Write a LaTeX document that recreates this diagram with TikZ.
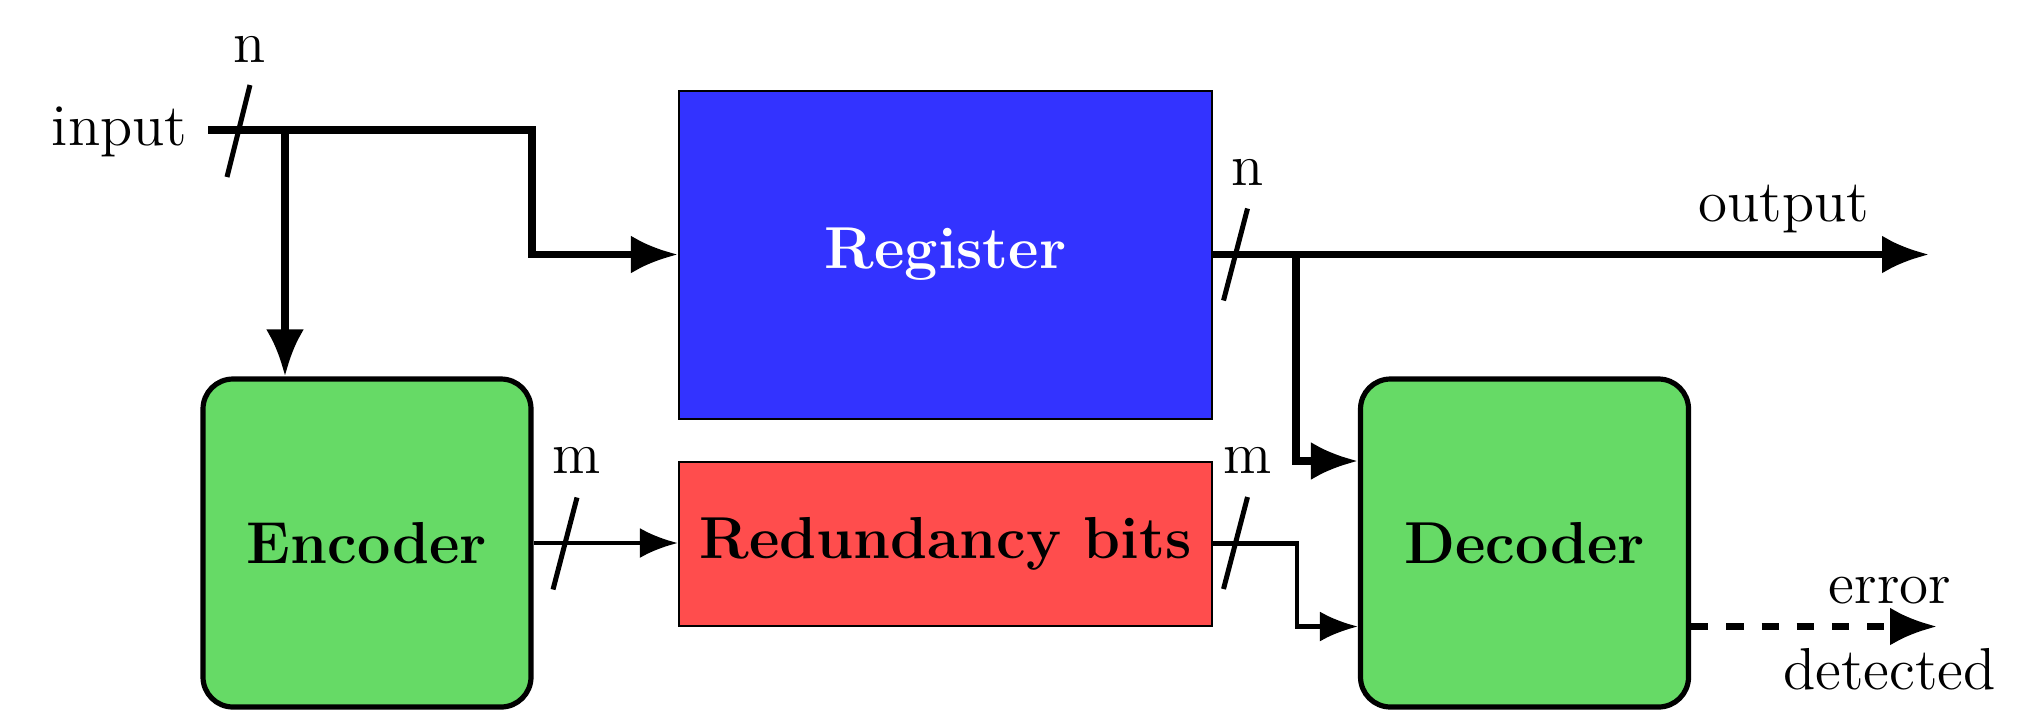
\documentclass[tikz,border=0pt]{standalone}
\usetikzlibrary{arrows.meta,calc}
\definecolor{regblue}{RGB}{51,51,255}
\definecolor{redund}{RGB}{255,77,77}
\definecolor{codegreen}{RGB}{102,218,102}
\begin{document}
\begin{tikzpicture}[x=0.25pt,y=-0.25pt,
  font=\fontsize{14.8}{17}\selectfont,
  box/.style={draw=black, line width=0.5pt, minimum width=133.3pt, inner sep=0pt,
    font=\fontsize{14.8}{17}\selectfont\bfseries},
  coder/.style={draw=black, fill=codegreen, line width=1.3pt, rounded corners=7.5pt,
    minimum width=82pt, minimum height=82pt, inner sep=0pt,
    font=\fontsize{14.8}{17}\selectfont\bfseries},
  nbus/.style={line width=1.8pt, -{Latex[length=11.75pt,width=9.5pt]}},
  mbus/.style={line width=1.1pt, -{Latex[length=9.5pt,width=7.5pt]}},
  busslash/.style={line width=1.25pt},
  buslabel/.style={anchor=base, inner sep=0pt}]
\useasboundingbox (0,0) rectangle (2030,709);

% blocks
\node[box, fill=regblue, text=white, minimum height=82pt] (reg) at (945.5,254.5) {Register};
\node[box, fill=redund, minimum height=41pt] (red) at (945.5,543.5) {Redundancy bits};
\node[coder] (enc) at (367,543) {Encoder};
\node[coder] (dec) at (1524.5,543) {Decoder};

% text labels
\node[anchor=base east, inner sep=0pt] (inlbl) at (188,145) {input};
\node[buslabel] (outlbl) at (1784,221) {output};
\node[buslabel] (errlbl) at (1890,603) {error};
\node[buslabel] (detlbl) at (1889.5,689) {detected};

% input bus
\coordinate (inS) at (208,130);
\coordinate (j1) at (285,130);
\coordinate (c1) at (532,130);
\draw[nbus] (inS) -- (c1) |- (reg.west);
\draw[nbus] (j1) -- (j1 |- enc.north);

% output bus
\coordinate (j2) at (1296,254.5);
\coordinate (outE) at (1929,254.5);
\draw[nbus] (reg.east) -- (outE);
\draw[nbus] (j2) |- ($(dec.west)+(0,-82)$);

% redundancy bus
\draw[mbus] (enc.east) -- (enc.east -| red.west);
\draw[mbus] (red.east) -- ++(84,0) |- ($(dec.west)+(0,83.5)$);

% error output
\coordinate (errE) at (1937,626.5);
\draw[nbus, dash pattern=on 4.3pt off 4.5pt] ($(dec.east)+(0,83.5)$) -- (errE);

% bus width slashes
\coordinate (s1) at (238.5,131);
\coordinate (s2) at (1235.5,254.5);
\coordinate (s3) at (565,543.5);
\coordinate (s4) at (1235.5,543);
\draw[busslash] ($(s1)+(-11.5,46)$) -- ($(s1)+(11.5,-46)$) coordinate (s1t);
\draw[busslash] ($(s2)+(-12,46)$) -- ($(s2)+(12,-46)$) coordinate (s2t);
\draw[busslash] ($(s3)+(-12,46)$) -- ($(s3)+(12,-46)$) coordinate (s3t);
\draw[busslash] ($(s4)+(-12,46)$) -- ($(s4)+(12,-46)$) coordinate (s4t);
\node[buslabel] (n1) at ($(s1t)+(0,-23)$) {n};
\node[buslabel] (n2) at ($(s2t)+(0,-23)$) {n};
\node[buslabel] (m1) at ($(s3t)+(0,-24)$) {m};
\node[buslabel] (m2) at ($(s4t)+(0,-24)$) {m};
\end{tikzpicture}
\end{document}
